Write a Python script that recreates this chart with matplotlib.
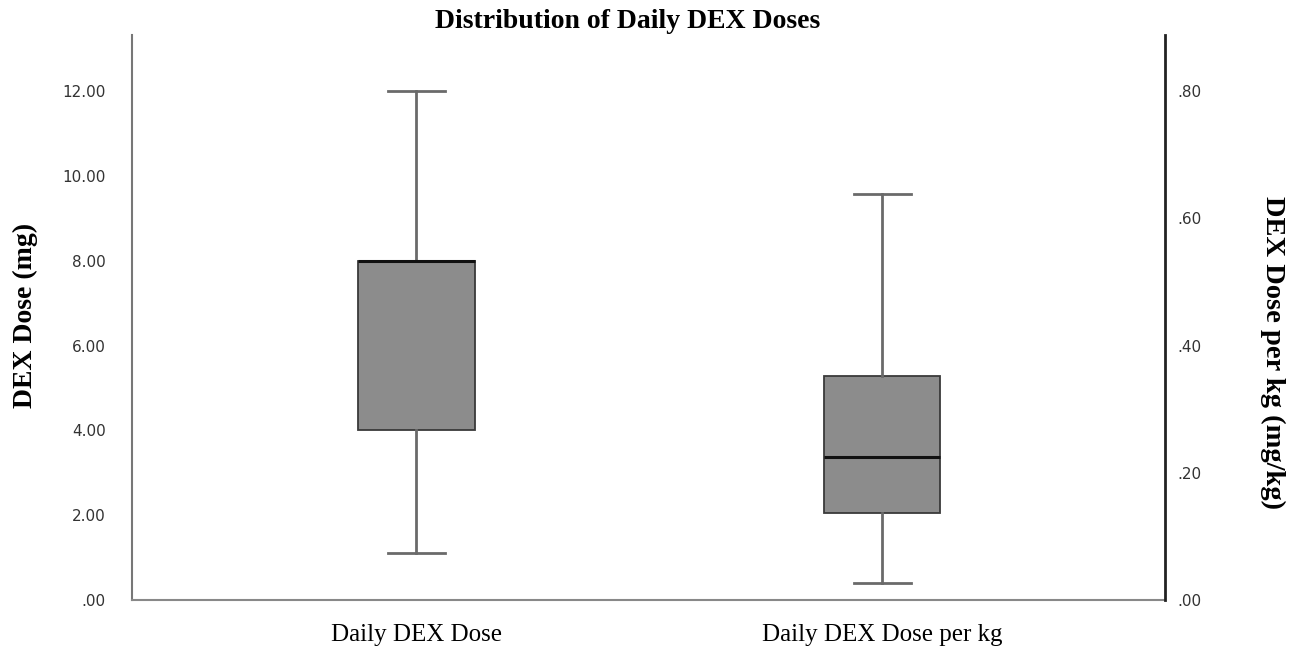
import matplotlib.pyplot as plt

# box statistics
categories = ["Daily DEX Dose", "Daily DEX Dose per kg"]
dose_mg = dict(whislo=1.1, q1=4.0, med=8.0, q3=8.0, whishi=12.0)
dose_per_kg = dict(whislo=0.027, q1=0.137, med=0.225, q3=0.352, whishi=0.638)

left_ticks = [0, 2, 4, 6, 8, 10, 12]
left_labels = [".00", "2.00", "4.00", "6.00", "8.00", "10.00", "12.00"]
right_ticks = [0, 0.2, 0.4, 0.6, 0.8]
right_labels = [".00", ".20", ".40", ".60", ".80"]

serif = {'family': 'Liberation Serif'}

fig = plt.figure(figsize=(13.01, 6.5), dpi=100)
ax = fig.add_axes([0.1015, 0.0769, 0.794, 0.869])
ax2 = ax.twinx()

boxprops = dict(facecolor="#8c8c8c", edgecolor="#3a3a3a", linewidth=1.3)
whiskerprops = dict(color="#6a6a6a", linewidth=2)
capprops = dict(color="#6a6a6a", linewidth=2)
medianprops = dict(color="#111111", linewidth=2.2)

ax.bxp([dose_mg], positions=[1], widths=0.25, capwidths=0.122, patch_artist=True,
       showfliers=False, boxprops=boxprops, whiskerprops=whiskerprops,
       capprops=capprops, medianprops=medianprops)
ax2.bxp([dose_per_kg], positions=[2], widths=0.25, capwidths=0.122, patch_artist=True,
        showfliers=False, boxprops=boxprops, whiskerprops=whiskerprops,
        capprops=capprops, medianprops=medianprops)

ax.set_xlim(0.39, 2.607)
ax.set_ylim(0, 13.32)
ax2.set_ylim(0, 13.32 / 15)

ax.set_yticks(left_ticks)
ax.set_yticklabels(left_labels)
ax2.set_yticks(right_ticks)
ax2.set_yticklabels(right_labels)
ax.set_xticks([1, 2])
ax.set_xticklabels(categories, fontsize=18, **serif)

ax.tick_params(axis='y', length=0, pad=19, labelsize=11, labelcolor="#333333")
ax2.tick_params(axis='y', length=0, pad=9, labelsize=11, labelcolor="#333333")
ax.tick_params(axis='x', length=0, pad=17)

for a in (ax, ax2):
    a.spines['top'].set_visible(False)
ax.spines['right'].set_visible(False)
ax2.spines['left'].set_visible(False)
ax2.spines['bottom'].set_visible(False)
ax.spines['left'].set_color("#777777")
ax.spines['left'].set_linewidth(1.5)
ax.spines['bottom'].set_color("#888888")
ax.spines['bottom'].set_linewidth(1.5)
ax2.spines['right'].set_color("#222222")
ax2.spines['right'].set_linewidth(2)

ax.set_ylabel("DEX Dose (mg)", fontsize=20, fontweight='bold', va='center', **serif)
ax.yaxis.set_label_coords(-0.1036, 0.504)
ax2.set_ylabel("DEX Dose per kg (mg/kg)", fontsize=20.5, fontweight='bold',
               rotation=270, va='center', **serif)
ax2.yaxis.set_label_coords(1.1045, 0.439)

fig.text(628 / 1301, 1 - 22 / 650, "Distribution of Daily DEX Doses", fontsize=20,
         fontweight='bold', ha='center', va='center', **serif)

plt.savefig("out.png", dpi=100)
